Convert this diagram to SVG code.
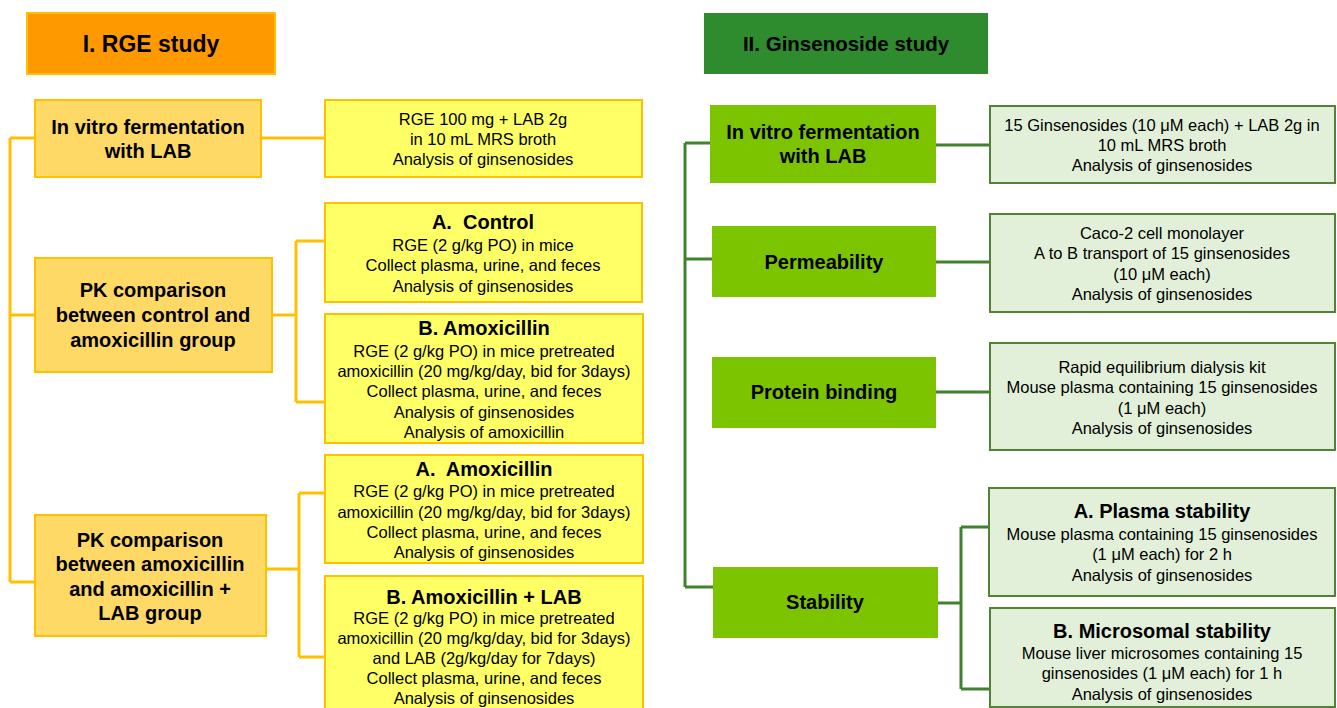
<svg xmlns="http://www.w3.org/2000/svg" width="1337" height="708" viewBox="0 0 1337 708">
<style>
text{font-family:"Liberation Sans",Arial,sans-serif;fill:#000;text-anchor:middle}
.h{font-size:23px;font-weight:bold}
.hg{font-size:20.5px;font-weight:bold}
.b{font-size:20px;font-weight:bold}
.t{font-size:16.5px}
.hdrL{fill:#FF9900;stroke:#FFC000;stroke-width:2}
.mainL{fill:#FFD966;stroke:#FFC000;stroke-width:2}
.detL{fill:#FFFF66;stroke:#FFC000;stroke-width:2}
.hdrG{fill:#2E8B2E}
.mainG{fill:#7DC400}
.detG{fill:#E2F0D9;stroke:#548235;stroke-width:2}
.cL{fill:none;stroke:#FFC000;stroke-width:3}
.cG{fill:none;stroke:#40802F;stroke-width:3}
</style>
<rect width="1337" height="708" fill="#fff"/>
<g id="connectors">
<path class="cL" d="M10,138V582M10,138H35M10,315H35M10,582H35M261,138H325M272,315H296M296,241V402M296,241H325M296,402H325M266,569H299M299,493V657M299,493H325M299,657H325"/>
<path class="cG" d="M685,143V587M685,143H710M685,259H712M685,587H713M936,145H990M936,262H990M936,392H990M938,603H961M961,527V689M961,527H989M961,689H990"/>
</g>
<g id="hdr-rge"><rect class="hdrL" x="27" y="13" width="248" height="61"/><text class="h" x="151" y="52">I. RGE study</text></g>
<g id="rge-ferm"><rect class="mainL" x="35" y="100" width="226" height="77"/><text class="b" x="148" y="134">In vitro fermentation</text><text class="b" x="148" y="158">with LAB</text></g>
<g id="rge-ferm-detail"><rect class="detL" x="325" y="100" width="317" height="77"/><text class="t" x="483" y="125">RGE 100 mg + LAB 2g</text><text class="t" x="483" y="145">in 10 mL MRS broth</text><text class="t" x="483" y="165">Analysis of ginsenosides</text></g>
<g id="pk1"><rect class="mainL" x="35" y="258" width="237" height="114"/><text class="b" x="153" y="297">PK comparison</text><text class="b" x="153" y="322">between control and</text><text class="b" x="153" y="347">amoxicillin group</text></g>
<g id="pk1-a"><rect class="detL" x="325" y="203" width="317" height="99"/><text class="b" x="483" y="229">A.&#160; Control</text><text class="t" x="483" y="251">RGE (2 g/kg PO) in mice</text><text class="t" x="483" y="271">Collect plasma, urine, and feces</text><text class="t" x="483" y="292">Analysis of ginsenosides</text></g>
<g id="pk1-b"><rect class="detL" x="325" y="314" width="318" height="129"/><text class="b" x="484" y="335">B. Amoxicillin</text><text class="t" x="484" y="357">RGE (2 g/kg PO) in mice pretreated</text><text class="t" x="484" y="377">amoxicillin (20 mg/kg/day, bid for 3days)</text><text class="t" x="484" y="397">Collect plasma, urine, and feces</text><text class="t" x="484" y="418">Analysis of ginsenosides</text><text class="t" x="484" y="438">Analysis of amoxicillin</text></g>
<g id="pk2"><rect class="mainL" x="35" y="515" width="231" height="121"/><text class="b" x="150" y="547">PK comparison</text><text class="b" x="150" y="571">between amoxicillin</text><text class="b" x="150" y="596">and amoxicillin +</text><text class="b" x="150" y="620">LAB group</text></g>
<g id="pk2-a"><rect class="detL" x="325" y="455" width="318" height="108"/><text class="b" x="484" y="476">A.&#160; Amoxicillin</text><text class="t" x="484" y="497">RGE (2 g/kg PO) in mice pretreated</text><text class="t" x="484" y="518">amoxicillin (20 mg/kg/day, bid for 3days)</text><text class="t" x="484" y="538">Collect plasma, urine, and feces</text><text class="t" x="484" y="558">Analysis of ginsenosides</text></g>
<g id="pk2-b"><rect class="detL" x="325" y="576" width="318" height="145"/><text class="b" x="484" y="604">B. Amoxicillin + LAB</text><text class="t" x="484" y="624">RGE (2 g/kg PO) in mice pretreated</text><text class="t" x="484" y="644">amoxicillin (20 mg/kg/day, bid for 3days)</text><text class="t" x="484" y="664">and LAB (2g/kg/day for 7days)</text><text class="t" x="484" y="684">Collect plasma, urine, and feces</text><text class="t" x="484" y="704">Analysis of ginsenosides</text></g>
<g id="hdr-gin"><rect class="hdrG" x="704" y="13" width="284" height="61"/><text class="hg" x="846" y="51">II. Ginsenoside study</text></g>
<g id="gin-ferm"><rect class="mainG" x="710" y="105" width="226" height="78"/><text class="b" x="823" y="139">In vitro fermentation</text><text class="b" x="823" y="163">with LAB</text></g>
<g id="gin-ferm-detail"><rect class="detG" x="990" y="106" width="345" height="77"/><text class="t" x="1162" y="131">15 Ginsenosides (10 μM each) + LAB 2g in</text><text class="t" x="1162" y="151">10 mL MRS broth</text><text class="t" x="1162" y="171">Analysis of ginsenosides</text></g>
<g id="perm"><rect class="mainG" x="712" y="226" width="224" height="71"/><text class="b" x="824" y="269">Permeability</text></g>
<g id="perm-detail"><rect class="detG" x="990" y="214" width="345" height="98"/><text class="t" x="1162" y="239">Caco-2 cell monolayer</text><text class="t" x="1162" y="259">A to B transport of 15 ginsenosides</text><text class="t" x="1162" y="280">(10 μM each)</text><text class="t" x="1162" y="300">Analysis of ginsenosides</text></g>
<g id="prot"><rect class="mainG" x="712" y="357" width="224" height="71"/><text class="b" x="824" y="399">Protein binding</text></g>
<g id="prot-detail"><rect class="detG" x="990" y="343" width="345" height="107"/><text class="t" x="1162" y="373">Rapid equilibrium dialysis kit</text><text class="t" x="1162" y="393">Mouse plasma containing 15 ginsenosides</text><text class="t" x="1162" y="414">(1 μM each)</text><text class="t" x="1162" y="434">Analysis of ginsenosides</text></g>
<g id="stab"><rect class="mainG" x="713" y="567" width="225" height="71"/><text class="b" x="825" y="609">Stability</text></g>
<g id="stab-a"><rect class="detG" x="989" y="488" width="346" height="108"/><text class="b" x="1162" y="518">A. Plasma stability</text><text class="t" x="1162" y="540">Mouse plasma containing 15 ginsenosides</text><text class="t" x="1162" y="560">(1 μM each) for 2 h</text><text class="t" x="1162" y="581">Analysis of ginsenosides</text></g>
<g id="stab-b"><rect class="detG" x="990" y="608" width="345" height="99"/><text class="b" x="1162" y="638">B. Microsomal stability</text><text class="t" x="1162" y="659">Mouse liver microsomes containing 15</text><text class="t" x="1162" y="679">ginsenosides (1 μM each) for 1 h</text><text class="t" x="1162" y="700">Analysis of ginsenosides</text></g>
</svg>
